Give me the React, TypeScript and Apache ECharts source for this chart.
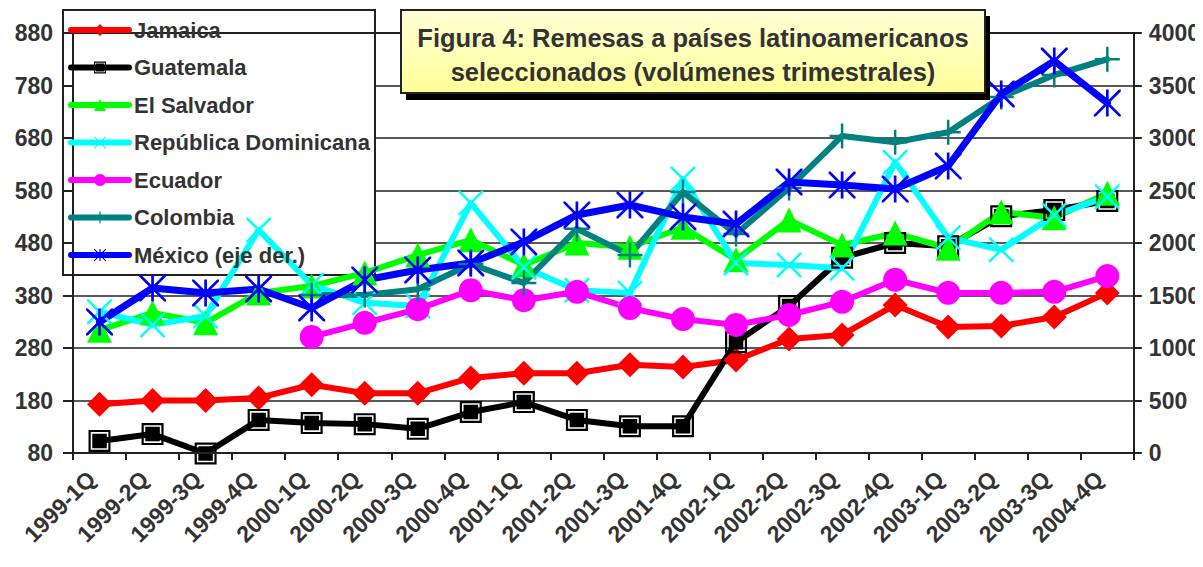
import React, { useEffect, useRef } from "react";
import * as echarts from "echarts";

const categories = [
  "1999-1Q", "1999-2Q", "1999-3Q", "1999-4Q",
  "2000-1Q", "2000-2Q", "2000-3Q", "2000-4Q",
  "2001-1Q", "2001-2Q", "2001-3Q", "2001-4Q",
  "2002-1Q", "2002-2Q", "2002-3Q", "2002-4Q",
  "2003-1Q", "2003-2Q", "2003-3Q", "2004-4Q",
];

const jamaica = [173, 180, 180, 185, 210, 194, 194, 223, 232, 232, 248, 244, 257, 297, 305, 362, 320, 322, 339, 385];
const guatemala = [103, 116, 79, 143, 137, 135, 126, 158, 177, 143, 131, 131, 291, 360, 452, 480, 474, 531, 543, 560];
const elSalvador = [314, 347, 328, 385, 398, 423, 457, 486, 438, 480, 472, 510, 448, 524, 476, 499, 470, 539, 528, 575];
const repDominicana = [349, 324, 341, 505, 400, 366, 360, 556, 434, 390, 385, 602, 442, 438, 432, 634, 490, 467, 533, 568];
const ecuador = [null, null, null, null, 301, 328, 354, 390, 371, 387, 356, 335, 324, 343, 368, 410, 385, 385, 387, 417];
const colombia = [null, null, null, null, 381, 381, 392, 440, 404, 507, 457, 577, 497, 585, 684, 672, 691, 758, 800, 830];
const mexico = [1248, 1571, 1524, 1562, 1381, 1648, 1743, 1810, 2010, 2267, 2362, 2248, 2181, 2581, 2552, 2514, 2733, 3419, 3733, 3333];

const leftTicks = { min: 80, max: 880, interval: 100 };
const rightTicks = { min: 0, max: 4000, interval: 500 };

const titleLines = ["Figura 4: Remesas a países latinoamericanos", "seleccionados (volúmenes trimestrales)"];

const FONT = "Arial, 'Liberation Sans', Helvetica, sans-serif";
const TXT = "#333333";

const SYM_X = "path://M0,0L7,0L100,93L100,100L93,100L0,7ZM100,0L100,7L7,100L0,100L0,93L93,0Z";
const SYM_PLUS = "path://M45,0L55,0L55,100L45,100ZM0,45L100,45L100,55L0,55Z";
const SYM_STAR = "path://M0,0L7,0L100,93L100,100L93,100L0,7ZM100,0L100,7L7,100L0,100L0,93L93,0ZM45,0L55,0L55,100L45,100Z";
const SYM_SQ = "path://M0,0L100,0L100,100L0,100ZM10,10L10,90L90,90L90,10ZM17,17L83,17L83,83L17,83Z";

export default function App() {
  const ref = useRef<HTMLDivElement>(null);

  useEffect(() => {
    if (!ref.current) return;
    const chart = echarts.init(ref.current, undefined, { renderer: "svg" });

    const mk = (name: string, data: any[], color: string, symbol: string, size: number, width: number, yAxisIndex = 0) => ({
      name,
      type: "line",
      data,
      yAxisIndex,
      symbol,
      symbolSize: size,
      showAllSymbol: true,
      connectNulls: false,
      clip: false,
      lineStyle: { color, width, cap: "round", join: "round" },
      itemStyle: { color, borderWidth: 0 },
      emphasis: { disabled: true },
      z: 2,
    });

    const axisFmt = (v: number) => String(v);

    const option: any = {
      animation: false,
      backgroundColor: "#ffffff",
      textStyle: { fontFamily: FONT },
      grid: { left: 73, right: 68, top: 33, bottom: 114, containLabel: false },
      legend: {
        orient: "vertical",
        left: 68,
        top: 19,
        padding: 0,
        itemGap: 15.5,
        itemWidth: 58,
        itemHeight: 15,
        selectedMode: false,
        lineStyle: { width: 6, cap: "round" },
        textStyle: { fontSize: 22, fontWeight: "bold", color: TXT, fontFamily: FONT },
        data: ["Jamaica", "Guatemala", "El Salvador", "República Dominicana", "Ecuador", "Colombia", "México (eje der.)"],
      },
      xAxis: [
        {
          type: "category",
          data: categories,
          boundaryGap: true,
          axisLine: { show: true, lineStyle: { color: "#222", width: 2 } },
          axisTick: { show: true, inside: false, length: 7, interval: 0, lineStyle: { color: "#222", width: 2 } },
          axisLabel: {
            interval: 0,
            rotate: 45,
            margin: 30,
            align: "right",
            verticalAlign: "bottom",
            fontSize: 23,
            fontWeight: "bold",
            color: TXT,
            fontFamily: FONT,
          },
          splitLine: { show: false },
          z: 3,
        },
        {
          type: "category",
          data: categories,
          position: "top",
          axisLine: { show: true, lineStyle: { color: "#222", width: 2 } },
          axisTick: { show: false },
          axisLabel: { show: false },
          splitLine: { show: false },
          z: 3,
        },
      ],
      yAxis: [
        {
          type: "value",
          position: "left",
          min: leftTicks.min,
          max: leftTicks.max,
          interval: leftTicks.interval,
          axisLine: { show: true, lineStyle: { color: "#222", width: 2 } },
          axisTick: { show: true, inside: false, length: 10, lineStyle: { color: "#222", width: 2 } },
          axisLabel: { margin: 20, fontSize: 23, fontWeight: "bold", color: TXT, fontFamily: FONT, formatter: axisFmt },
          splitLine: { show: false },
          z: 3,
        },
        {
          type: "value",
          position: "right",
          min: rightTicks.min,
          max: rightTicks.max,
          interval: rightTicks.interval,
          axisLine: { show: true, lineStyle: { color: "#222", width: 2 } },
          axisTick: { show: true, inside: false, length: 8, lineStyle: { color: "#222", width: 2 } },
          axisLabel: { margin: 15, fontSize: 23, fontWeight: "bold", color: TXT, fontFamily: FONT, formatter: axisFmt },
          splitLine: { show: true, lineStyle: { color: "#222", width: 1.6 } },
          z: 0,
        },
      ],
      graphic: [
        {
          type: "rect",
          z: 1,
          shape: { x: 63, y: 10, width: 312, height: 265 },
          style: { fill: "#ffffff", stroke: "#222", lineWidth: 2 },
          silent: true,
        },
        {
          type: "group",
          z: 10,
          children: [
            {
              type: "rect",
              z: 10,
              shape: { x: 406, y: 16, width: 584, height: 84 },
              style: { fill: "#000000" },
            },
            {
              type: "rect",
              z: 11,
              shape: { x: 401, y: 10, width: 584, height: 83 },
              style: {
                fill: new echarts.graphic.LinearGradient(0, 0, 0, 1, [
                  { offset: 0, color: "#ffffd6" },
                  { offset: 1, color: "#ffff99" },
                ]),
                stroke: "#222",
                lineWidth: 2,
              },
            },
            {
              type: "text",
              z: 12,
              x: 693,
              y: 38,
              style: {
                text: titleLines[0],
                fill: TXT,
                fontSize: 25.5,
                fontWeight: "bold",
                fontFamily: FONT,
                align: "center",
                verticalAlign: "middle",
              },
            },
            {
              type: "text",
              z: 12,
              x: 693,
              y: 72,
              style: {
                text: titleLines[1],
                fill: TXT,
                fontSize: 25.5,
                fontWeight: "bold",
                fontFamily: FONT,
                align: "center",
                verticalAlign: "middle",
              },
            },
          ],
        },
      ],
      series: [
        mk("Jamaica", jamaica, "#ff0000", "diamond", 25, 6),
        mk("Guatemala", guatemala, "#000000", SYM_SQ, 22, 6),
        mk("El Salvador", elSalvador, "#00ff00", "triangle", 25, 6),
        mk("República Dominicana", repDominicana, "#00ffff", SYM_X, 25, 6),
        mk("Ecuador", ecuador, "#ff00ff", "circle", 24, 6),
        mk("Colombia", colombia, "#008080", SYM_PLUS, 25, 6),
        mk("México (eje der.)", mexico, "#0000ff", SYM_STAR, 27, 7, 1),
      ],
    };

    chart.setOption(option);
    return () => chart.dispose();
  }, []);

  return <div ref={ref} style={{ width: 1203, height: 567, margin: -8 }} />;
}
